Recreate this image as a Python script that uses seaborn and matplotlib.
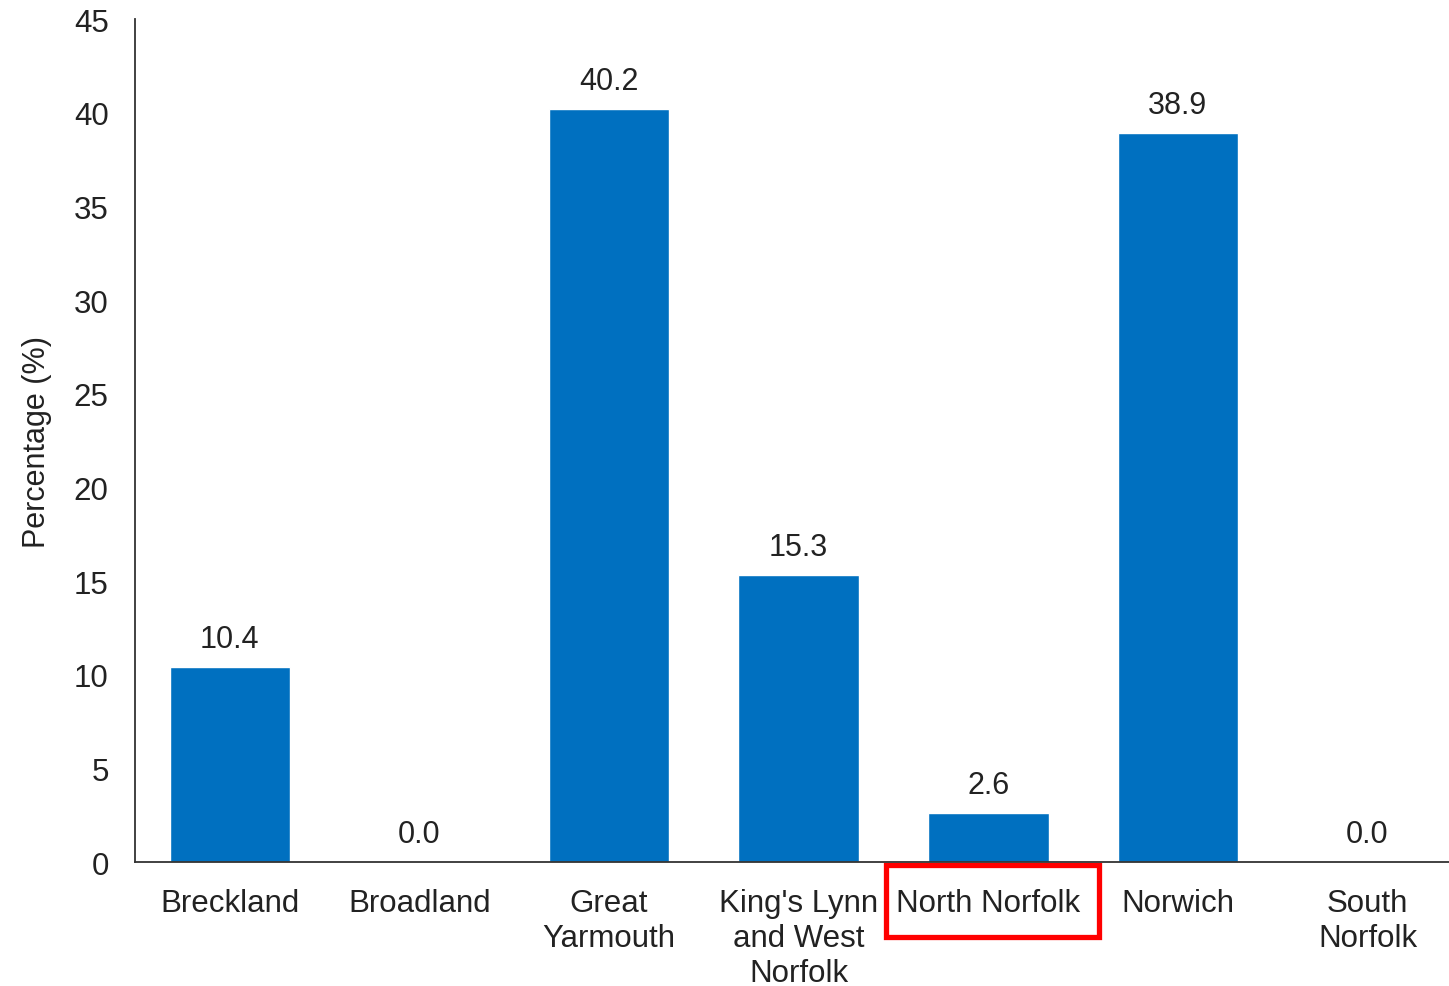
import matplotlib
matplotlib.use("Agg")
import matplotlib.pyplot as plt
import matplotlib.transforms as mtransforms
from matplotlib.patches import Rectangle
import seaborn as sns
import pandas as pd

districts = ["Breckland", "Broadland", "Great\nYarmouth", "King's Lynn\nand West\nNorfolk",
             "North Norfolk", "Norwich", "South\nNorfolk"]
percentages = [10.4, 0.0, 40.2, 15.3, 2.6, 38.9, 0.0]

sns.set_style("white")
plt.rcParams['font.family'] = ['Liberation Sans', 'DejaVu Sans']

df = pd.DataFrame({"district": districts, "pct": percentages})

fig = plt.figure(figsize=(14.49, 9.87), dpi=100)
ax = fig.add_axes([0.0932, 0.1256, 0.916, 0.8541])

sns.barplot(data=df, x="district", y="pct", color="#0070C0", saturation=1,
            width=0.635, ax=ax)

for i, v in enumerate(percentages):
    ax.text(i, v + 0.7, f"{v:.1f}", ha="center", va="bottom", fontsize=22, color="#222222")

ax.set_ylim(0, 45)
ax.set_yticks(range(0, 46, 5))
ax.set_xlim(-0.5, 6.5)
ax.set_xlabel("")
ax.set_ylabel("Percentage (%)", fontsize=22, color="#222222", labelpad=16)
ax.tick_params(axis="both", length=0, labelsize=22.5, colors="#222222")
ax.tick_params(axis="x", pad=19)
ax.tick_params(axis="y", pad=19)

sns.despine(ax=ax, top=True, right=True)
for s in ("left", "bottom"):
    ax.spines[s].set_color("#333333")
    ax.spines[s].set_linewidth(1.3)

# highlight box around North Norfolk label
trans = mtransforms.blended_transform_factory(ax.transData, ax.transAxes)
box = Rectangle((3.461, -0.0885), 1.123, 0.0849, transform=trans, fill=False,
                edgecolor="#FF0000", linewidth=3.8, clip_on=False)
ax.add_patch(box)

fig.savefig("out.png", dpi=100)
